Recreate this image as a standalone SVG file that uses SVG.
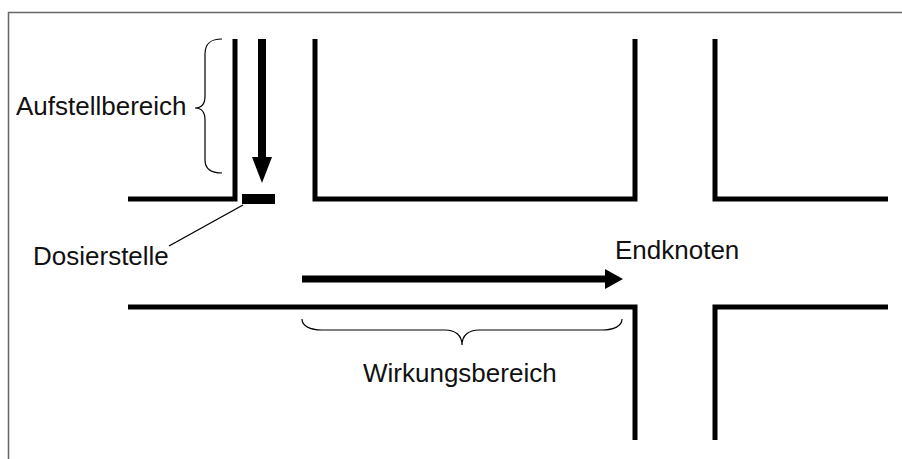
<svg xmlns="http://www.w3.org/2000/svg" width="902" height="459" viewBox="0 0 902 459">
<style>
.wall{fill:none;stroke:#000;stroke-width:5;stroke-linejoin:miter;stroke-linecap:butt}
.brace{fill:none;stroke:#000;stroke-width:1.2}
.lbl{font-family:"Liberation Sans",Arial,sans-serif;font-size:26px;fill:#111}
.shaft{stroke:#000;fill:none}
.head{fill:#000}
</style>
<rect x="0" y="0" width="902" height="459" fill="#fff"/>
<path d="M8.5,459 V12.5 H902" fill="none" stroke="#666" stroke-width="1.5"/>
<g id="walls">
<path class="wall" d="M128,199 H235 V39"/>
<path class="wall" d="M315,39 V199 H635 V39"/>
<path class="wall" d="M715,39 V199 H888"/>
<path class="wall" d="M128,307 H635 V440"/>
<path class="wall" d="M888,307 H715 V440"/>
</g>
<g id="dosierstelle">
<rect x="242" y="194" width="33" height="10" fill="#000"/>
<text class="lbl" x="33" y="265">Dosierstelle</text>
</g>
<g id="aufstellbereich">
<path class="brace" d="M222,39 C212,39 205,42 205,54 L205,96 C205,104 201,108 195,108 C201,108 205,112 205,120 L205,160 C205,170 212,173 222,173"/>
<text class="lbl" x="16" y="115">Aufstellbereich</text>
</g>
<g id="wirkungsbereich">
<path class="brace" d="M302,319 C302,326 310,330 322,330 L445,330 C455,330 462,335 462,345 C462,335 469,330 479,330 L602,330 C614,330 622,326 622,319"/>
<text class="lbl" x="363" y="382">Wirkungsbereich</text>
</g>
<g id="endknoten">
<text class="lbl" x="615" y="259">Endknoten</text>
</g>
<g id="connectors">
<line x1="243" y1="205" x2="169" y2="246" stroke="#000" stroke-width="1.4"/>
<line class="shaft" x1="262" y1="39" x2="262" y2="160" stroke-width="8"/>
<polygon class="head" points="252,157 272,157 262,183"/>
<line class="shaft" x1="302" y1="279" x2="607" y2="279" stroke-width="7"/>
<polygon class="head" points="605,269 605,289 623,279"/>
</g>
</svg>
